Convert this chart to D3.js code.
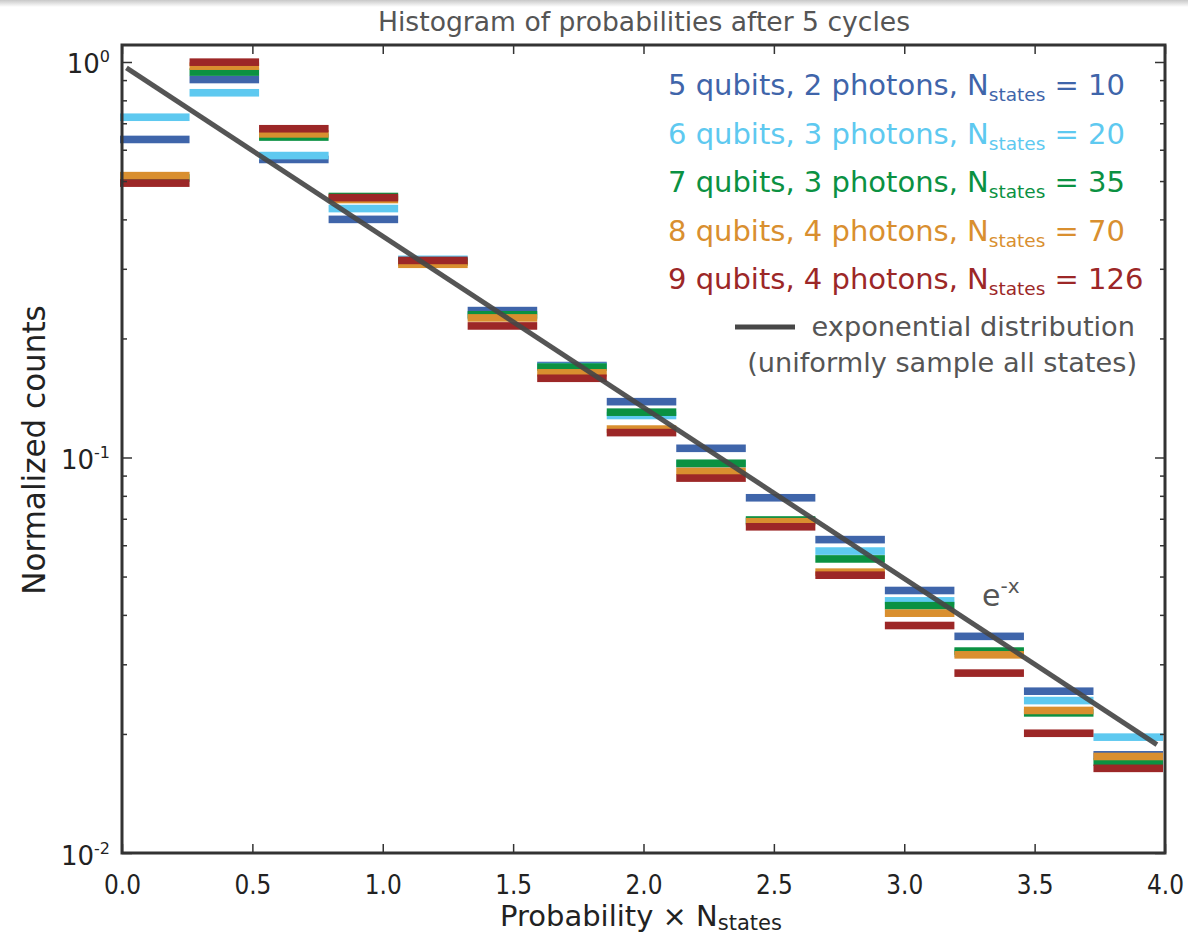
<!DOCTYPE html>
<html>
<head>
<meta charset="utf-8">
<script src="https://cdn.jsdelivr.net/npm/d3@7/dist/d3.min.js"></script>
<style>
  html, body { margin: 0; padding: 0; background: #fff; }
  svg { display: block; }
  text { font-family: 'DejaVu Sans', Verdana, sans-serif; }
</style>
</head>
<body>
<svg id="chart" width="1188" height="937"></svg>
<script>
// ---------------- data ----------------
const binStarts = [0, 0.2667, 0.5333, 0.8, 1.0667, 1.3333, 1.6, 1.8667, 2.1333, 2.4, 2.6667, 2.9333, 3.2, 3.4667, 3.7333];
const binWidth = 0.2667;

const seriesNames = [
  ["5 qubits, 2 photons, N", "states", " = 10"],
  ["6 qubits, 3 photons, N", "states", " = 20"],
  ["7 qubits, 3 photons, N", "states", " = 35"],
  ["8 qubits, 4 photons, N", "states", " = 70"],
  ["9 qubits, 4 photons, N", "states", " = 126"]
];
const seriesColors = ["#3f65aa", "#5ec9f0", "#0b9142", "#d98f2f", "#9c2727"];

const q5 = [0.637, 0.903, 0.567, 0.400, 0.314, 0.2352, 0.1708, 0.1384, 0.1055, 0.0791, 0.0620, 0.0461, 0.0353, 0.02565, 0.01771];
const q6 = [0.725, 0.836, 0.580, 0.426, 0.317, 0.2279, 0.1698, 0.1277, 0.0963, 0.0691, 0.0580, 0.0434, 0.0320, 0.02429, 0.01963];
const q7 = [0.509, 0.943, 0.646, 0.457, 0.312, 0.2295, 0.1693, 0.1302, 0.0967, 0.0695, 0.0554, 0.0422, 0.0324, 0.02261, 0.01698];
const q8 = [0.516, 0.976, 0.658, 0.449, 0.308, 0.2254, 0.1637, 0.1180, 0.0923, 0.0688, 0.0513, 0.0404, 0.0317, 0.02293, 0.01754];
const q9 = [0.494, 0.999, 0.678, 0.454, 0.315, 0.2151, 0.1586, 0.1156, 0.0887, 0.0668, 0.0504, 0.0376, 0.0285, 0.02008, 0.01637];

// theoretical exponential e^-x (straight on a log axis): endpoints
const expX = [0.017, 3.969];
const expY = [0.966, 0.0188];

const xTicks = [0.0, 0.5, 1.0, 1.5, 2.0, 2.5, 3.0, 3.5, 4.0];
const xTickLabels = ["0.0", "0.5", "1.0", "1.5", "2.0", "2.5", "3.0", "3.5", "4.0"];
const yMajor = [0.01, 0.1, 1];
const yMajorExp = ["-2", "-1", "0"];

// ---------------- layout ----------------
const svg = d3.select("#chart");
const L = 122, R = 1165, T = 45, B = 853;

const x = d3.scaleLinear().domain([0, 4]).range([L, R]);
const y = d3.scaleLog().domain([0.01, 1.104]).range([B, T]);

// top grey band (screenshot edge)
const defs = svg.append("defs");
const grad = defs.append("linearGradient").attr("id", "topband").attr("x1", 0).attr("y1", 0).attr("x2", 0).attr("y2", 1);
grad.append("stop").attr("offset", "0%").attr("stop-color", "#c8c8c8");
grad.append("stop").attr("offset", "100%").attr("stop-color", "#ffffff");
svg.append("rect").attr("x", 0).attr("y", 0).attr("width", 1188).attr("height", 7).attr("fill", "url(#topband)");

// clip
defs.append("clipPath").attr("id", "clip").append("rect")
  .attr("x", L - 3).attr("y", T).attr("width", R - L + 3).attr("height", B - T);

// ---------------- bars ----------------
const allSeries = [q5, q6, q7, q8, q9];
const barH = 7.6;
const gBars = svg.append("g").attr("clip-path", "url(#clip)");
allSeries.forEach((vals, si) => {
  gBars.selectAll(null).data(vals).enter().append("rect")
    .attr("x", (d, i) => x(binStarts[i]) - 2)
    .attr("width", (d, i) => x(binStarts[i] + binWidth) - x(binStarts[i]))
    .attr("y", d => y(d) - barH / 2)
    .attr("height", barH)
    .attr("fill", seriesColors[si]);
});

// ---------------- exponential line ----------------
const line = d3.line().x(d => x(d[0])).y(d => y(d[1]));
svg.append("path")
  .datum(d3.zip(expX, expY))
  .attr("d", line)
  .attr("fill", "none")
  .attr("stroke", "#474747")
  .attr("stroke-width", 5)
  .attr("stroke-opacity", 0.92);

// ---------------- axes ----------------
const minor = [];
[0.01, 0.1].forEach(dec => { for (let k = 2; k <= 9; k++) minor.push(dec * k); });

function styleAxis(g) {
  g.select(".domain").remove();
  g.selectAll(".tick line").attr("stroke", "#333").attr("stroke-width", 1.5);
}

// bottom
const gxB = svg.append("g").attr("transform", `translate(0,${B})`)
  .call(d3.axisBottom(x).tickValues(xTicks).tickSizeInner(-9).tickSizeOuter(0).tickPadding(22)
    .tickFormat((d, i) => xTickLabels[i]));
styleAxis(gxB);
gxB.selectAll(".tick text")
  .attr("font-size", 26).attr("fill", "#222")
  .attr("dy", 0).attr("y", 41)
  .attr("textLength", 37).attr("lengthAdjust", "spacingAndGlyphs");

// top
const gxT = svg.append("g").attr("transform", `translate(0,${T})`)
  .call(d3.axisTop(x).tickValues(xTicks).tickSizeInner(-9).tickSizeOuter(0).tickFormat(""));
styleAxis(gxT);

// left major
const gyL = svg.append("g").attr("transform", `translate(${L},0)`)
  .call(d3.axisLeft(y).tickValues(yMajor).tickSizeInner(-10).tickSizeOuter(0).tickFormat(""));
styleAxis(gyL);
gyL.selectAll(".tick text").remove();
gyL.selectAll(".tick").each(function (d, i) {
  const t = d3.select(this).append("text")
    .attr("y", 11)
    .attr("text-anchor", "start")
    .attr("font-size", 26).attr("fill", "#222");
  t.append("tspan").text("10");
  t.append("tspan").attr("dy", -11).attr("font-size", 16).text(yMajorExp[i]);
  const w = t.node().getComputedTextLength();
  t.attr("x", -w - 12);
});

// left minor
const gyLm = svg.append("g").attr("transform", `translate(${L},0)`)
  .call(d3.axisLeft(y).tickValues(minor).tickSizeInner(-5).tickSizeOuter(0).tickFormat(""));
styleAxis(gyLm);

// right
const gyR = svg.append("g").attr("transform", `translate(${R},0)`)
  .call(d3.axisRight(y).tickValues(yMajor).tickSizeInner(-10).tickSizeOuter(0).tickFormat(""));
styleAxis(gyR);
const gyRm = svg.append("g").attr("transform", `translate(${R},0)`)
  .call(d3.axisRight(y).tickValues(minor).tickSizeInner(-5).tickSizeOuter(0).tickFormat(""));
styleAxis(gyRm);

// frame
svg.append("rect")
  .attr("x", L).attr("y", T).attr("width", R - L).attr("height", B - T)
  .attr("fill", "none").attr("stroke", "#333").attr("stroke-width", 3);

// ---------------- titles ----------------
svg.append("text")
  .attr("x", 644).attr("y", 31)
  .attr("text-anchor", "middle")
  .attr("font-size", 26.6).attr("fill", "#555")
  .text("Histogram of probabilities after 5 cycles");

// x label
const xl = svg.append("text")
  .attr("x", 500).attr("y", 926)
  .attr("font-size", 29).attr("fill", "#222");
xl.append("tspan").text("Probability × N");
xl.append("tspan").attr("font-size", 21).attr("dy", 4).text("states");

// y label
svg.append("text")
  .attr("transform", "translate(45,450) rotate(-90) scale(0.97,1)")
  .attr("text-anchor", "middle")
  .attr("font-size", 32).attr("fill", "#222")
  .text("Normalized counts");

// ---------------- legend ----------------
const legX = 668, legY0 = 95, legDY = 48.5;
seriesNames.forEach((parts, i) => {
  const t = svg.append("text")
    .attr("x", legX).attr("y", legY0 + i * legDY)
    .attr("font-size", 29).attr("fill", seriesColors[i]);
  t.append("tspan").text(parts[0]);
  t.append("tspan").attr("font-size", 18.5).attr("dy", 6).text(parts[1]);
  t.append("tspan").attr("dy", -6).text(parts[2]);
});

svg.append("line")
  .attr("x1", 735).attr("x2", 795).attr("y1", 327).attr("y2", 327)
  .attr("stroke", "#474747").attr("stroke-width", 5);
svg.append("text")
  .attr("x", 1135).attr("y", 336).attr("text-anchor", "end")
  .attr("font-size", 27.2).attr("fill", "#555")
  .text("exponential distribution");
svg.append("text")
  .attr("x", 1137).attr("y", 372).attr("text-anchor", "end")
  .attr("font-size", 27.2).attr("fill", "#555")
  .text("(uniformly sample all states)");

// e^-x annotation
const ex = svg.append("text")
  .attr("x", 982).attr("y", 606)
  .attr("font-size", 30).attr("fill", "#555");
ex.append("tspan").text("e");
ex.append("tspan").attr("font-size", 20).attr("dy", -13).text("-x");
</script>
</body>
</html>
